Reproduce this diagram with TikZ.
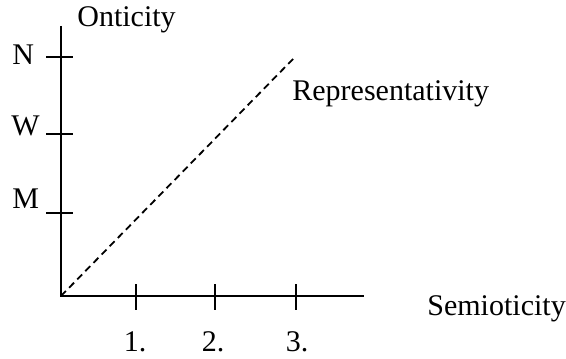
\documentclass[tikz,border=0pt]{standalone}
\usepackage{fontspec}
\setmainfont{Liberation Serif}
\usepackage{tikz}
\usetikzlibrary{positioning}

\tikzset{
  axisline/.style={line width=1pt, black},
  tickline/.style={line width=1pt, black},
  axislabel/.style={inner sep=0pt, font=\fontsize{15}{18}\selectfont},
  diagline/.style={line width=0.9pt, dash pattern=on 3.5pt off 2.3pt}
}

\begin{document}
\begin{tikzpicture}[x=0.5pt, y=-0.5pt]
            \useasboundingbox (0,0) rectangle (566,358);

            % axes
            \coordinate (origin) at (61,296);
            \coordinate (ytop) at (61,26);
            \coordinate (xend) at (364,296);
            \coordinate (diagend) at (294,58);

            \draw[axisline] (ytop) -- (origin) -- (xend);
            \draw[diagline] (origin) -- (diagend);

            % ticks on the vertical axis
            \coordinate (tN) at (61,57);
            \coordinate (tW) at (61,134);
            \coordinate (tM) at (61,213);
            \draw[tickline] ([xshift=-7.5pt] tN) -- ([xshift=6pt] tN);
            \draw[tickline] ([xshift=-7.5pt] tW) -- ([xshift=6pt] tW);
            \draw[tickline] ([xshift=-7.5pt] tM) -- ([xshift=6pt] tM);

            % ticks on the horizontal axis
            \coordinate (t1) at (136,296);
            \coordinate (t2) at (215,296);
            \coordinate (t3) at (296,296);
            \draw[tickline] ([yshift=6pt] t1) -- ([yshift=-7pt] t1);
            \draw[tickline] ([yshift=6pt] t2) -- ([yshift=-7pt] t2);
            \draw[tickline] ([yshift=6pt] t3) -- ([yshift=-7pt] t3);

            % labels
            \node[axislabel, anchor=base west] (onticity) at (77,27) {Onticity};
            \node[axislabel, anchor=base west] (semioticity) at (427,315) {Semioticity};
            \node[axislabel, anchor=base west] (repr) at (292,100) {Representativity};

            \node[axislabel, anchor=base west] (lN) at (12,65) {N};
            \node[axislabel, anchor=base west] (lW) at (11,135) {W};
            \node[axislabel, anchor=base west] (lM) at (12,208) {M};

            \node[axislabel, anchor=base] (l1) at (135,351) {1.};
            \node[axislabel, anchor=base] (l2) at (213,351) {2.};
            \node[axislabel, anchor=base] (l3) at (297,351) {3.};
        \end{tikzpicture}
\end{document}
